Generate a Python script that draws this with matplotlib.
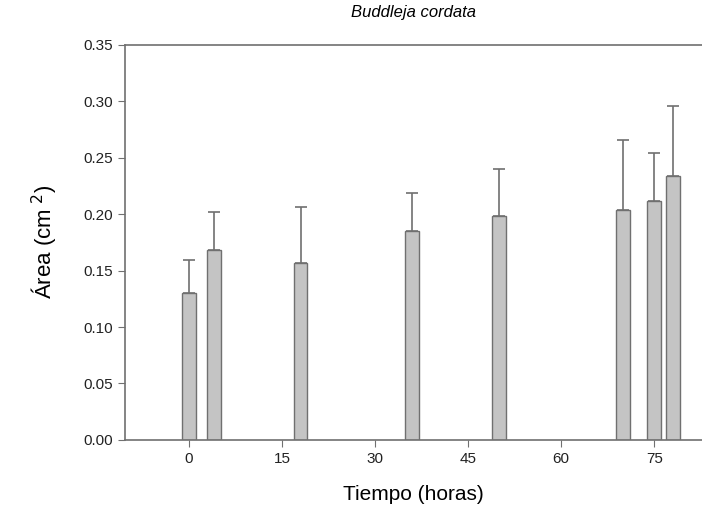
import numpy as np
import matplotlib
matplotlib.use('Agg')
import matplotlib.pyplot as plt

# data
horas = [0, 4, 18, 36, 50, 70, 75, 78]
area = [0.130, 0.168, 0.157, 0.185, 0.198, 0.204, 0.212, 0.234]
error = [0.029, 0.034, 0.049, 0.034, 0.042, 0.062, 0.042, 0.062]
xticks = [0, 15, 30, 45, 60, 75]
yticks = [0.00, 0.05, 0.10, 0.15, 0.20, 0.25, 0.30, 0.35]

plt.rcParams['font.family'] = ['Liberation Sans', 'DejaVu Sans']

fig = plt.figure(figsize=(7.02, 5.23), dpi=100)
ax = fig.add_axes([0.178, 0.159, 0.822, 0.755])

ax.bar(horas, area, width=2.2, color='#c4c4c4', edgecolor='#707070', linewidth=1.0,
       yerr=[np.zeros(len(error)), error], capsize=4,
       error_kw=dict(ecolor='#707070', elinewidth=1.2, capthick=1.2))

ax.set_xlim(-10.3, 82.7)
ax.set_ylim(0, 0.35)
ax.set_xticks(xticks)
ax.set_yticks(yticks)
ax.set_yticklabels([f'{v:.2f}' for v in yticks])
ax.tick_params(direction='out', length=5, color='#707070', labelsize=11, labelcolor='#222222')

for s in ['left', 'bottom', 'top']:
    ax.spines[s].set_color('#707070')
    ax.spines[s].set_linewidth(1.2)
ax.spines['right'].set_visible(False)

ax.set_title('Buddleja cordata', style='italic', fontsize=12, pad=20)
ax.set_xlabel('Tiempo (horas)', fontsize=15, labelpad=14)
ax.set_ylabel('Área (cm$^{\\ 2}$)', fontsize=16, labelpad=18)

fig.savefig('out.png', dpi=100)
